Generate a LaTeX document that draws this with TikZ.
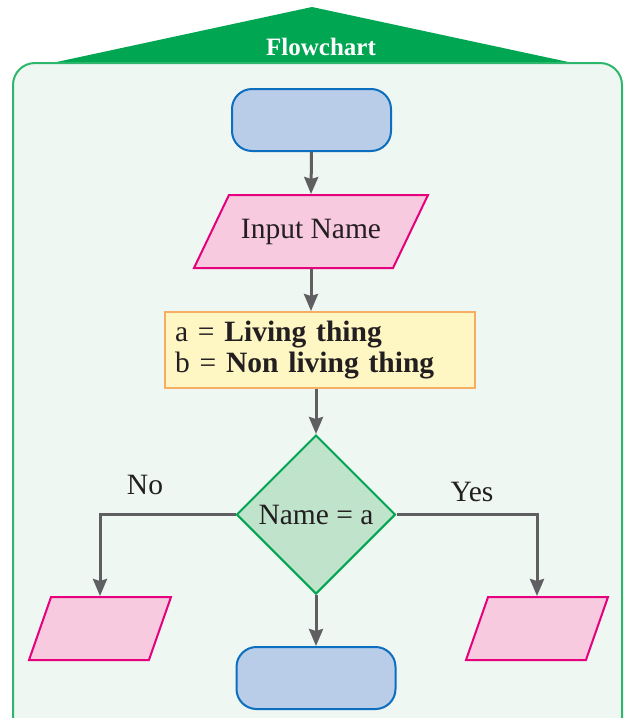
\documentclass[tikz,border=0pt]{standalone}
\usepackage{fontspec}
\setmainfont{Liberation Serif}
\usetikzlibrary{shapes.geometric, arrows.meta}

\definecolor{hdrgreen}{HTML}{00A651}
\definecolor{panelline}{HTML}{2DB76C}
\definecolor{panelfill}{HTML}{EEF7F1}
\definecolor{termfill}{HTML}{B9CDE9}
\definecolor{termline}{HTML}{0B6EBE}
\definecolor{iofill}{HTML}{F8CADF}
\definecolor{ioline}{HTML}{E5007E}
\definecolor{procfill}{HTML}{FEF6C3}
\definecolor{procline}{HTML}{F6AE62}
\definecolor{decfill}{HTML}{C0E3CB}
\definecolor{decline}{HTML}{00A551}
\definecolor{flowgray}{HTML}{5F5F61}
\definecolor{inkblack}{HTML}{231F20}

\begin{document}
\begin{tikzpicture}[x=1pt, y=-1pt,
    every node/.style={font=\fontsize{29.5}{31}\selectfont, text=inkblack},
    term/.style={draw=termline, fill=termfill, line width=2pt, rounded corners=20pt,
        minimum width=159pt, minimum height=62pt},
    io/.style={trapezium, trapezium stretches body, draw=ioline, fill=iofill, line width=2pt,
        inner xsep=0pt},
    procbox/.style={draw=procline, fill=procfill, line width=2pt, minimum width=310pt,
        minimum height=76pt, text width=290pt, inner xsep=10pt, align=left},
    decision/.style={diamond, aspect=1, draw=decline, fill=decfill, line width=2pt,
        inner sep=0pt, minimum width=159pt, minimum height=159pt},
    flow/.style={draw=flowgray, line width=3pt, -{Stealth[length=17pt, width=14pt, inset=2pt]}}
]
    % Page size 624 x 718 (1 unit = 1 pixel of the reference, y downwards)
    \path[use as bounding box, clip] (0,0) rectangle (624,718);

    % Panel with its green roof
    \fill[hdrgreen] (52,63) -- (312,7) -- (573,63) -- cycle;
    \filldraw[fill=panelfill, draw=panelline, line width=2pt, rounded corners=22pt] (13,63) rectangle (622,760);
    \node[font=\fontsize{25}{28}\bfseries, text=white] (title) at (321,47) {Flowchart};

    % Flowchart boxes
    \node[term] (start) at (311.5,120) {};
    \node[io, trapezium left angle=64.4, trapezium right angle=115.6, text height=20pt, text depth=6pt,
          inner ysep=23.5pt, minimum width=234pt] (inname) at (311,231.5) {Input Name};
    \node[procbox] (assign) at (320,350) {a = \textbf{Living thing}\\b = \textbf{Non living thing}};
    \node[decision] (check) at (316,514.5) {Name = a};
    \node[io, trapezium left angle=70.7, trapezium right angle=109.3,
          inner ysep=31.5pt, minimum width=142pt] (nobox) at (100,628.5) {};
    \node[io, trapezium left angle=70.7, trapezium right angle=109.3,
          inner ysep=31.5pt, minimum width=142pt] (yesbox) at (537,628.5) {};
    \node[term] (stop) at (316,678) {};

    % Branch labels
    \node (nolabel) at (145,485) {No};
    \node (yeslabel) at (472,492) {Yes};

    % Connectors
    \draw[flow] (start.south) -- (inname.north);
    \draw[flow] (inname.south) -- (inname.south |- assign.north);
    \draw[flow] (assign.south -| check.north) -- (check.north);
    \draw[flow] (check.west) -| (nobox.north);
    \draw[flow] (check.east) -| (yesbox.north);
    \draw[flow] (check.south) -- (stop.north);
\end{tikzpicture}
\end{document}
